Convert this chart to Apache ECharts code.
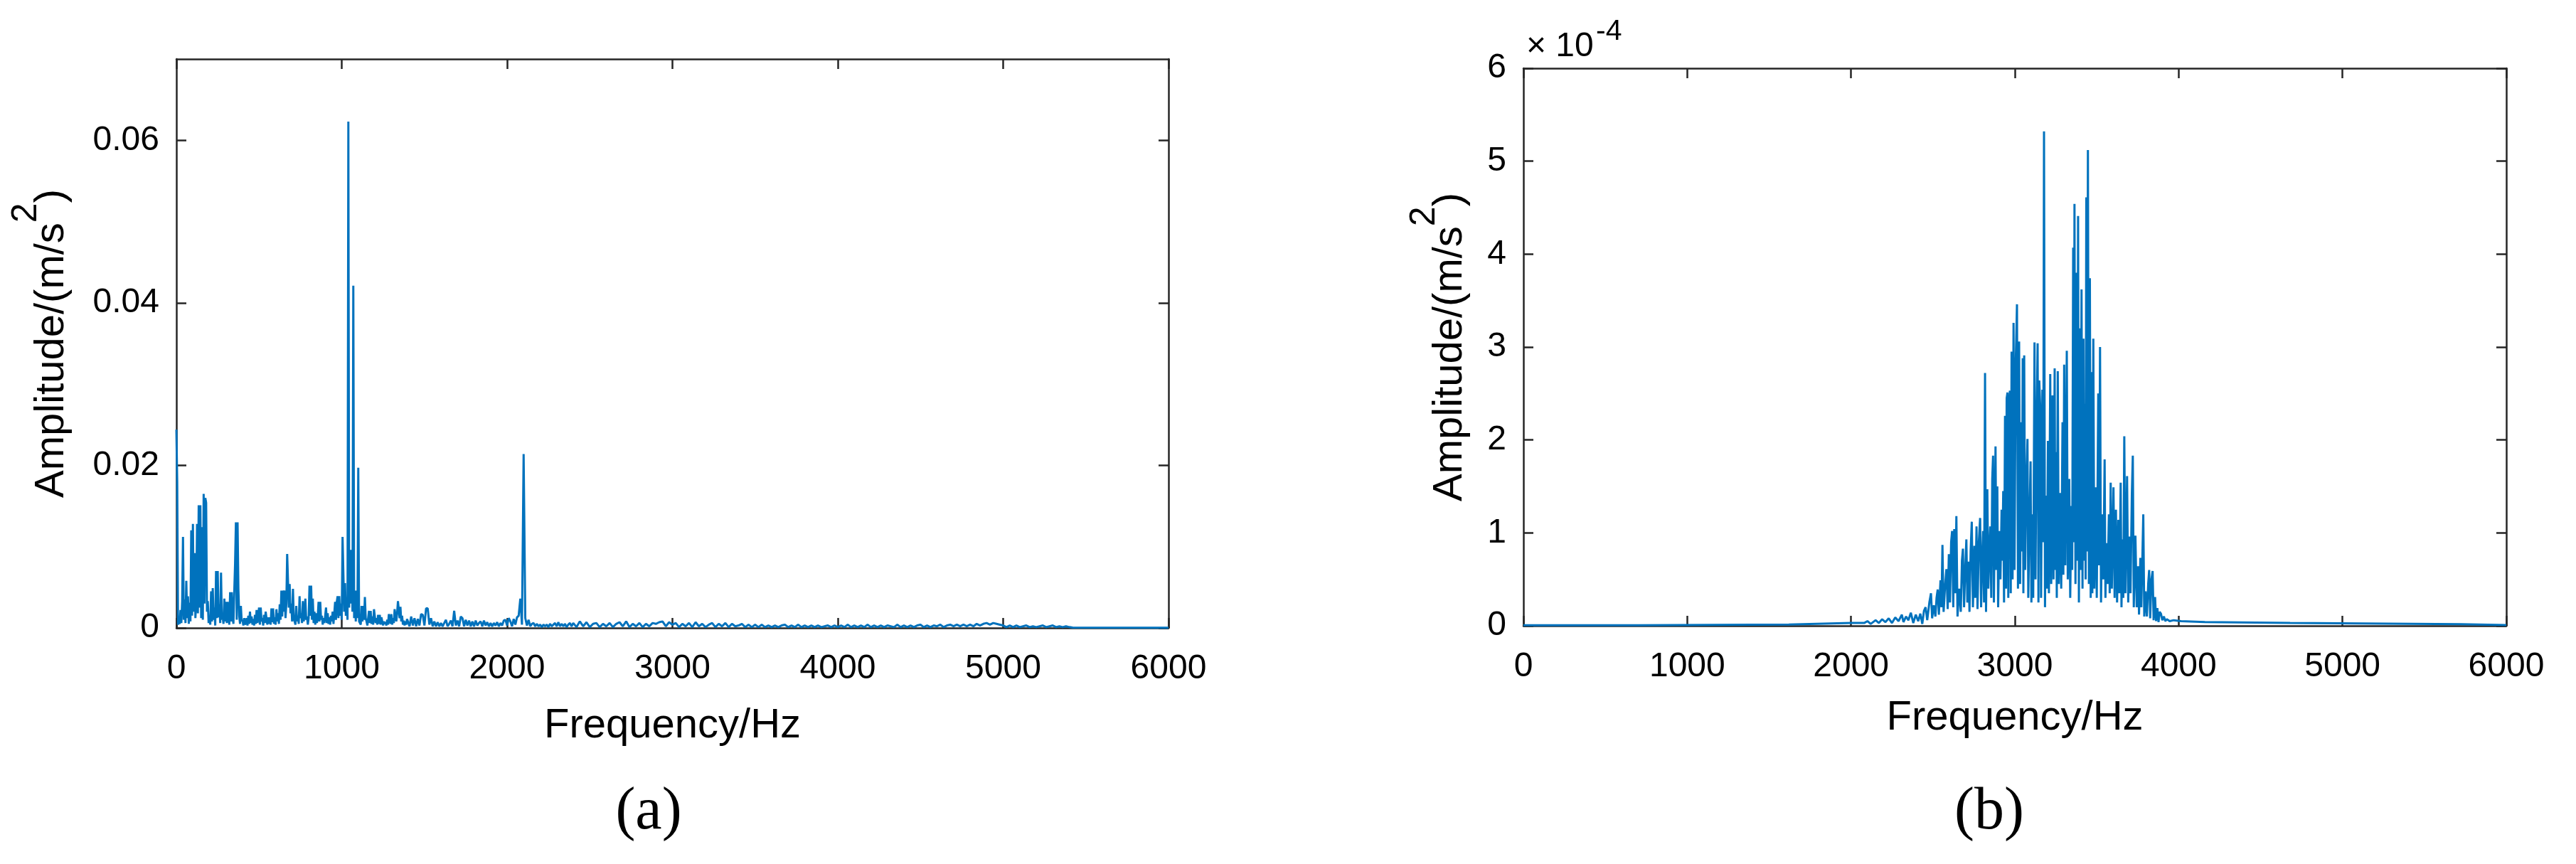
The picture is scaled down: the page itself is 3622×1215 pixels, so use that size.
<!DOCTYPE html>
<html>
<head>
<meta charset="utf-8">
<script src="https://cdn.jsdelivr.net/npm/echarts/dist/echarts.min.js"></script>
<style>
  html, body { margin: 0; padding: 0; background: #ffffff; }
  #chart { width: 3622px; height: 1215px; }
</style>
</head>
<body>
<div id="chart"></div>
<script>
// ---------------- DATA ----------------
const freqTicks = [0, 1000, 2000, 3000, 4000, 5000, 6000];
const yTicksA = [0, 0.02, 0.04, 0.06];
const yTicksB = [0, 1, 2, 3, 4, 5, 6];   // ×10^-4

// (a) amplitude (m/s^2) read every 5 Hz from 0 to 1395 Hz
const ampA_0_1395 = [
  0.0244,0.0180,0.0004,0.0008,0.0005,0.0022,0.0006,0.0033,0.0112,0.0010,0.0035,0.0006,0.0058,0.0012,0.0039,0.0005,0.0031,0.0008,0.0120,0.0015,
  0.0128,0.0020,0.0092,0.0012,0.0033,0.0128,0.0018,0.0151,0.0025,0.0151,0.0012,0.0124,0.0010,0.0165,0.0030,0.0160,0.0154,0.0020,0.0033,0.0006,
  0.0013,0.0004,0.0045,0.0008,0.0049,0.0010,0.0025,0.0003,0.0070,0.0012,0.0070,0.0013,0.0029,0.0006,0.0068,0.0010,0.0013,0.0005,0.0036,0.0008,
  0.0032,0.0006,0.0032,0.0013,0.0004,0.0044,0.0008,0.0044,0.0013,0.0005,0.0044,0.0079,0.0130,0.0010,0.0130,0.0048,0.0015,0.0005,0.0027,0.0008,
  0.0010,0.0003,0.0012,0.0004,0.0006,0.0012,0.0003,0.0015,0.0005,0.0020,0.0006,0.0014,0.0004,0.0011,0.0003,0.0016,0.0005,0.0022,0.0006,0.0015,
  0.0025,0.0004,0.0025,0.0008,0.0012,0.0003,0.0016,0.0006,0.0020,0.0019,0.0004,0.0013,0.0005,0.0013,0.0004,0.0024,0.0007,0.0024,0.0005,0.0013,
  0.0004,0.0023,0.0008,0.0018,0.0005,0.0029,0.0010,0.0046,0.0014,0.0046,0.0020,0.0046,0.0012,0.0030,0.0091,0.0091,0.0025,0.0054,0.0018,0.0030,
  0.0008,0.0048,0.0012,0.0013,0.0004,0.0027,0.0008,0.0015,0.0005,0.0039,0.0012,0.0018,0.0006,0.0033,0.0008,0.0015,0.0036,0.0010,0.0014,0.0004,
  0.0012,0.0052,0.0015,0.0052,0.0010,0.0036,0.0006,0.0020,0.0004,0.0018,0.0006,0.0014,0.0032,0.0008,0.0032,0.0010,0.0015,0.0004,0.0012,0.0006,
  0.0015,0.0025,0.0006,0.0018,0.0005,0.0013,0.0004,0.0015,0.0008,0.0020,0.0005,0.0018,0.0032,0.0010,0.0032,0.0039,0.0012,0.0039,0.0015,0.0030,
  0.0010,0.0112,0.0112,0.0020,0.0055,0.0015,0.0030,0.0010,0.0623,0.0025,0.0096,0.0030,0.0096,0.0020,0.0421,0.0012,0.0046,0.0008,0.0046,0.0012,
  0.0197,0.0008,0.0006,0.0004,0.0027,0.0008,0.0027,0.0010,0.0038,0.0012,0.0008,0.0003,0.0012,0.0021,0.0006,0.0021,0.0005,0.0014,0.0004,0.0023,
  0.0023,0.0006,0.0012,0.0004,0.0016,0.0005,0.0016,0.0004,0.0013,0.0012,0.0003,0.0008,0.0005,0.0007,0.0003,0.0010,0.0004,0.0017,0.0017,0.0005,
  0.0017,0.0004,0.0012,0.0006,0.0023,0.0023,0.0008,0.0018,0.0033,0.0033,0.0012,0.0026,0.0008,0.0015,0.0004,0.0009,0.0003,0.0008,0.0004,0.0011
];
// (a) amplitude read every 10 Hz from 1400 to 2390 Hz
const ampA_1400_2390 = [
  0.0011,0.0002,0.0014,0.0003,0.0012,0.0002,0.0011,0.0003,0.0017,0.0016,
  0.0003,0.0024,0.0024,0.0004,0.0012,0.0002,0.0008,0.0002,0.0007,0.0002,
  0.0006,0.0002,0.0006,0.0010,0.0002,0.0005,0.0009,0.0002,0.0021,0.0003,
  0.0009,0.0002,0.0014,0.0012,0.0002,0.0010,0.0003,0.0009,0.0002,0.0008,
  0.0002,0.0009,0.0003,0.0006,0.0008,0.0002,0.0009,0.0003,0.0007,0.0002,
  0.0006,0.0002,0.0006,0.0003,0.0007,0.0002,0.0006,0.0003,0.0009,0.0010,
  0.0003,0.0012,0.0008,0.0002,0.0011,0.0004,0.0013,0.0015,0.0036,0.0004,
  0.0214,0.0012,0.0003,0.0010,0.0002,0.0005,0.0006,0.0002,0.0005,0.0002,
  0.0004,0.0001,0.0004,0.0002,0.0004,0.0001,0.0005,0.0002,0.0004,0.0006,
  0.0002,0.0007,0.0002,0.0005,0.0002,0.0005,0.0001,0.0004,0.0006,0.0002
];
// (a) amplitude read every 20 Hz from 2400 to 5400 Hz
const ampA_2400_5400 = [
  0.0006,0.0001,0.0008,0.0002,0.0007,0.0001,0.0005,0.0006,0.0001,0.0005,
  0.0002,0.0006,0.0001,0.0005,0.0007,0.0002,0.0008,0.0001,0.0005,0.0002,
  0.0006,0.0001,0.0005,0.0002,0.0006,0.0005,0.0007,0.0008,0.0002,0.0007,
  0.0004,0.0006,0.0001,0.0005,0.0002,0.0006,0.0001,0.0007,0.0002,0.0005,
  0.0001,0.0004,0.0006,0.0001,0.0005,0.0002,0.0006,0.0001,0.0005,0.0002,
  0.0003,0.0005,0.0001,0.0004,0.0001,0.0004,0.0001,0.0004,0.0001,0.0003,
  0.0001,0.0003,0.0001,0.0003,0.0004,0.0001,0.0003,0.0001,0.0004,0.0001,
  0.0003,0.0001,0.0003,0.0001,0.0003,0.0001,0.0002,0.0003,0.0001,0.0003,
  0.0001,0.0003,0.0001,0.0004,0.0001,0.0003,0.0001,0.0003,0.0001,0.0004,
  0.0001,0.0003,0.0001,0.0003,0.0001,0.0003,0.0002,0.0001,0.0004,0.0001,
  0.0003,0.0001,0.0003,0.0001,0.0003,0.0004,0.0001,0.0003,0.0001,0.0003,
  0.0002,0.0004,0.0001,0.0003,0.0004,0.0002,0.0004,0.0002,0.0004,0.0002,
  0.0004,0.0002,0.0005,0.0003,0.0005,0.0006,0.0004,0.0006,0.0005,0.0004,
  0.0003,0.0001,0.0003,0.0001,0.0003,0.0001,0.0002,0.0003,0.0001,0.0002,
  0.0001,0.0002,0.0003,0.0001,0.0002,0.0003,0.0001,0.0002,0.0001,0.0002,
  0.0001
];
// (a) flat tail [Hz, amplitude]
const tailA = [[5420, 0.00004], [6000, 0.00003]];

// (b) spectrum [Hz, amplitude ×10^-4 (m/s^2)]
const specB = [
  [0,0.005],[700,0.005],[705,0.013],[1620,0.013],[1625,0.025],[2000,0.03],[2080,0.03],
  [2100,0.05],[2120,0.02],[2150,0.06],[2170,0.03],[2190,0.07],[2210,0.04],[2230,0.08],
  [2250,0.03],[2270,0.09],[2290,0.05],[2310,0.12],[2320,0.04],[2336,0.10],[2350,0.06],
  [2365,0.14],[2380,0.03],[2395,0.12],[2410,0.05],[2423,0.13],[2435,0.02],[2445,0.16],
  [2455,0.20],[2465,0.06],[2478,0.25],[2488,0.35],[2495,0.08],[2505,0.22],[2515,0.10],
  [2522,0.30],[2529,0.39],[2536,0.12],[2546,0.49],[2552,0.20],[2558,0.87],[2565,0.15],
  [2573,0.40],[2582,0.61],[2590,0.18],[2597,0.77],[2604,0.25],[2611,0.90],[2617,1.02],
  [2624,0.20],[2630,1.04],[2636,0.35],[2643,1.18],[2650,0.10],[2660,0.40],[2670,0.15],
  [2677,0.70],[2683,0.83],[2690,0.20],[2697,0.60],[2704,0.93],[2710,0.25],[2717,0.69],
  [2723,0.15],[2730,0.80],[2737,1.12],[2744,0.20],[2753,0.86],[2758,0.30],[2766,1.07],
  [2772,0.18],[2780,0.90],[2788,1.16],[2794,0.20],[2800,0.70],[2806,1.02],[2812,0.25],
  [2818,2.72],[2824,0.15],[2832,1.47],[2838,0.40],[2844,0.80],[2850,1.07],[2856,0.30],
  [2862,1.58],[2867,1.83],[2872,0.25],[2882,1.93],[2887,0.60],[2893,1.50],[2898,0.20],
  [2905,1.02],[2912,0.50],[2919,1.25],[2924,0.70],[2929,1.45],[2934,0.25],[2940,2.26],
  [2946,0.40],[2950,2.45],[2955,2.51],[2960,0.30],[2965,2.40],[2970,2.53],[2975,0.35],
  [2980,2.95],[2986,0.50],[2992,3.26],[2998,0.60],[3005,2.80],[3013,3.46],[3019,0.40],
  [3026,3.06],[3032,0.45],[3038,2.19],[3043,0.80],[3048,2.88],[3052,0.35],[3057,2.91],
  [3063,0.60],[3070,1.50],[3077,2.01],[3082,0.30],[3090,1.20],[3096,1.77],[3101,0.25],
  [3106,1.20],[3112,0.30],[3120,3.05],[3126,0.50],[3133,2.20],[3139,3.04],[3144,0.25],
  [3149,2.64],[3155,2.35],[3160,0.30],[3168,2.54],[3173,0.90],[3178,5.32],[3184,0.20],
  [3190,1.40],[3196,0.40],[3202,1.99],[3208,0.35],[3216,2.71],[3222,0.45],[3230,2.48],
  [3236,0.50],[3243,2.77],[3247,0.60],[3251,1.87],[3256,0.30],[3262,2.74],[3268,0.45],
  [3277,1.43],[3283,0.40],[3291,2.19],[3296,0.55],[3301,2.81],[3308,0.65],[3317,2.96],
  [3323,0.50],[3332,1.58],[3338,0.30],[3345,1.29],[3350,0.60],[3356,4.07],[3360,0.90],
  [3364,4.54],[3370,0.45],[3378,3.80],[3382,0.70],[3386,4.41],[3391,0.25],[3396,3.20],
  [3401,0.60],[3407,3.62],[3413,0.40],[3419,3.09],[3424,0.70],[3429,2.39],[3432,0.50],
  [3436,4.61],[3441,0.80],[3446,5.12],[3452,0.45],[3458,3.74],[3463,0.30],[3468,2.73],
  [3473,0.35],[3479,3.09],[3485,0.40],[3494,1.49],[3500,0.30],[3509,2.50],[3514,0.65],
  [3520,3.00],[3526,0.25],[3533,1.20],[3540,0.50],[3548,1.79],[3553,0.30],[3559,0.89],
  [3566,0.45],[3574,1.20],[3579,0.35],[3585,1.54],[3592,0.40],[3602,1.49],[3609,0.30],
  [3617,1.25],[3624,0.25],[3632,1.14],[3638,0.35],[3646,1.54],[3651,0.20],[3656,0.93],
  [3662,0.30],[3668,2.04],[3675,0.35],[3685,1.61],[3692,0.25],[3700,0.96],[3706,0.35],
  [3714,1.40],[3720,1.83],[3726,0.20],[3736,0.97],[3744,0.20],[3752,0.64],[3758,0.12],
  [3766,0.73],[3772,0.20],[3784,1.20],[3790,0.10],[3798,0.37],[3806,0.10],[3814,0.45],
  [3820,0.60],[3826,0.08],[3834,0.50],[3841,0.59],[3847,0.06],[3856,0.31],[3862,0.05],
  [3870,0.19],[3877,0.04],[3884,0.15],[3892,0.13],[3900,0.06],[3910,0.10],[3918,0.05],
  [3928,0.07],[3945,0.05],[3970,0.06],[4015,0.05],[4160,0.04],[4680,0.03],[4685,0.018],
  [5720,0.018],[5725,0.008],[6000,0.008]
];

const xTitle = 'Frequency/Hz';
const panelLabels = ['(a)', '(b)'];

// ---------------- BUILD ----------------
const dataA = [];
ampA_0_1395.forEach((v, i) => dataA.push([i * 5, v]));
ampA_1400_2390.forEach((v, i) => dataA.push([1400 + i * 10, v]));
ampA_2400_5400.forEach((v, i) => dataA.push([2400 + i * 20, v]));
tailA.forEach(p => dataA.push(p));

const FONT = "'Liberation Sans', Arial, Helvetica, sans-serif";
const SERIF = "'Liberation Serif', 'Times New Roman', serif";
const AX = '#262626';
const BLUE = '#0072BD';

const axLine = { show: true, onZero: false, lineStyle: { color: AX, width: 2.5 } };
const axTick = { show: true, inside: true, length: 14, lineStyle: { color: AX, width: 2.5 } };
const plain = v => String(Math.round(v * 1e6) / 1e6);

const yNameRich = {
  n: { fontSize: 58, fontFamily: FONT, color: '#000', lineHeight: 90, verticalAlign: 'bottom' },
  s: { fontSize: 50, fontFamily: FONT, color: '#000', lineHeight: 50, verticalAlign: 'top' }
};
const yName = '{n|Amplitude/(m/s}{s|2}{n|)}';

function xAxes(gridIndex, nameGap) {
  return [
    {
      gridIndex, type: 'value', min: 0, max: 6000, interval: 1000, position: 'bottom',
      axisLine: axLine, axisTick: axTick, splitLine: { show: false },
      axisLabel: { show: true, fontSize: 48, fontFamily: FONT, color: '#000', margin: 34,
                   customValues: freqTicks, formatter: plain },
      name: xTitle, nameLocation: 'middle', nameGap,
      nameTextStyle: { fontSize: 58, fontFamily: FONT, color: '#000' }
    },
    {
      gridIndex, type: 'value', min: 0, max: 6000, interval: 1000, position: 'top',
      axisLine: axLine, axisTick: axTick, splitLine: { show: false },
      axisLabel: { show: false }
    }
  ];
}

function yAxes(gridIndex, max, interval, ticks, nameGap) {
  return [
    {
      gridIndex, type: 'value', min: 0, max, interval, position: 'left',
      axisLine: axLine, splitLine: { show: false },
      axisTick: Object.assign({}, axTick, { customValues: ticks }),
      axisLabel: { show: true, fontSize: 48, fontFamily: FONT, color: '#000', margin: 24,
                   customValues: ticks, formatter: plain },
      name: yName, nameLocation: 'middle', nameGap, nameRotate: 90,
      nameTextStyle: { rich: yNameRich }
    },
    {
      gridIndex, type: 'value', min: 0, max, interval, position: 'right',
      axisLine: axLine, splitLine: { show: false },
      axisTick: Object.assign({}, axTick, { customValues: ticks }),
      axisLabel: { show: false }
    }
  ];
}

const chart = echarts.init(document.getElementById('chart'), null, { renderer: 'canvas' });

const option = {
  animation: false,
  backgroundColor: '#ffffff',
  grid: [
    { left: 248, top: 83, width: 1395, height: 800 },
    { left: 2142, top: 96, width: 1382, height: 784 }
  ],
  xAxis: [].concat(xAxes(0, 109), xAxes(1, 101)),
  yAxis: [].concat(yAxes(0, 0.07, 0.02, yTicksA, 146), yAxes(1, 6, 1, yTicksB, 74)),
  series: [
    {
      type: 'line', xAxisIndex: 0, yAxisIndex: 0, data: dataA,
      showSymbol: false, symbol: 'none', clip: false,
      lineStyle: { color: BLUE, width: 3 }, z: 5
    },
    {
      type: 'line', xAxisIndex: 2, yAxisIndex: 2, data: specB,
      showSymbol: false, symbol: 'none', clip: false,
      lineStyle: { color: BLUE, width: 3 }, z: 5
    }
  ],
  graphic: [
    { type: 'text', x: 2146, y: 65.5,
      style: { text: '× 10', fontSize: 48, fontFamily: FONT, fill: '#000',
               align: 'left', verticalAlign: 'middle', textAlign: 'left', textVerticalAlign: 'middle' } },
    { type: 'text', x: 2244, y: 45,
      style: { text: '-4', fontSize: 41, fontFamily: FONT, fill: '#000',
               align: 'left', verticalAlign: 'middle', textAlign: 'left', textVerticalAlign: 'middle' } },
    { type: 'text', x: 912, y: 1143,
      style: { text: panelLabels[0], fontSize: 84, fontFamily: SERIF, fill: '#000',
               align: 'center', verticalAlign: 'middle', textAlign: 'center', textVerticalAlign: 'middle' } },
    { type: 'text', x: 2797, y: 1143,
      style: { text: panelLabels[1], fontSize: 84, fontFamily: SERIF, fill: '#000',
               align: 'center', verticalAlign: 'middle', textAlign: 'center', textVerticalAlign: 'middle' } }
  ]
};

chart.setOption(option);
</script>
</body>
</html>
